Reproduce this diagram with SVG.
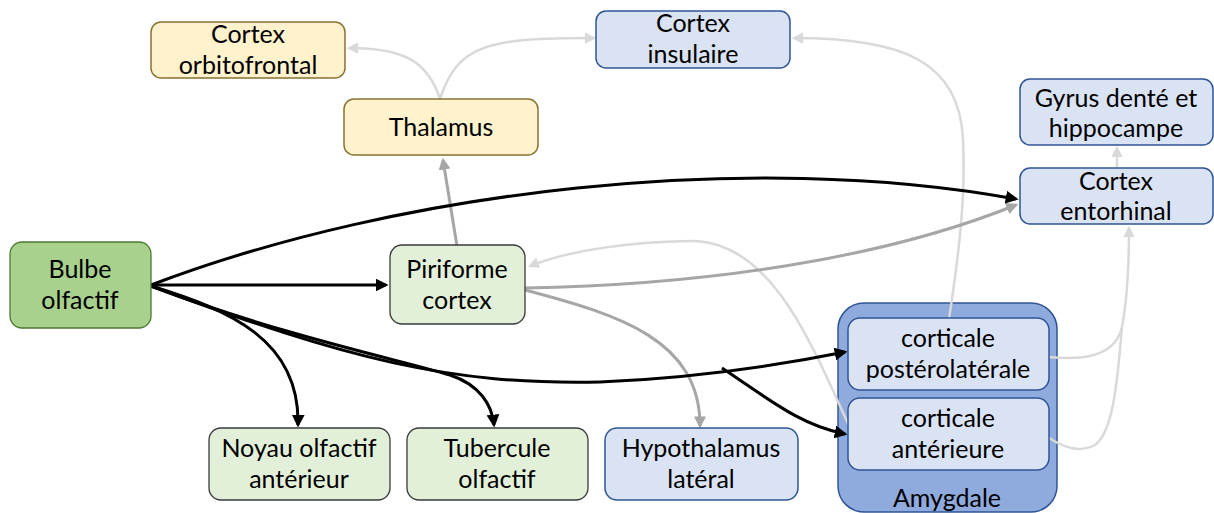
<svg xmlns="http://www.w3.org/2000/svg" width="1214" height="513" viewBox="0 0 1214 513">
<style>
text{font-family:Lato,"Liberation Sans",sans-serif;font-size:25px;fill:#000;text-anchor:middle}
.green{fill:#e2f0d9;stroke:#3a3a3a;stroke-width:1.3}
.bulbe{fill:#a9d18e;stroke:#4f7a33;stroke-width:1.3}
.yellow{fill:#fff2cc;stroke:#8a7232;stroke-width:1.5}
.blue{fill:#dae3f3;stroke:#2f5597;stroke-width:1.5}
.amyg{fill:#8faadc;stroke:#2f5597;stroke-width:1.5}
.k{fill:none;stroke:#000;stroke-width:3}
.g{fill:none;stroke:#a6a6a6;stroke-width:3}
.l{fill:none;stroke:#d9d9d9;stroke-width:2.5}
</style>
<defs>
<marker id="mk" viewBox="0 0 10 10" refX="8" refY="5" markerWidth="4.3" markerHeight="4.3" orient="auto" markerUnits="strokeWidth"><path d="M0,0 L10,5 L0,10 z" fill="#000"/></marker>
<marker id="mg" viewBox="0 0 10 10" refX="8" refY="5" markerWidth="4" markerHeight="4" orient="auto" markerUnits="strokeWidth"><path d="M0,0 L10,5 L0,10 z" fill="#a6a6a6"/></marker>
<marker id="ml" viewBox="0 0 10 10" refX="8" refY="5" markerWidth="4.5" markerHeight="4.5" orient="auto" markerUnits="strokeWidth"><path d="M0,0 L10,5 L0,10 z" fill="#d9d9d9"/></marker>
</defs>

<g id="amygdale">
<rect class="amyg" x="838" y="303" width="219" height="209" rx="26"/>
<text x="947" y="507">Amygdale</text>
</g>

<g id="connectors">
<path class="l" d="M440,99 C 428,62 405,48 349,48" marker-end="url(#ml)"/>
<path class="l" d="M440,99 C 458,44 488,38 594,38" marker-end="url(#ml)"/>
<path class="l" d="M949,319 C 958,260 966,200 963,140 C 960,60 900,38 794,38" marker-end="url(#ml)"/>
<path class="l" d="M1117,167 L1117,148" marker-end="url(#ml)"/>
<path class="l" d="M1049,357 C 1080,360 1115,358 1122,327 C 1127,300 1129,260 1129,228" marker-end="url(#ml)"/>
<path class="l" d="M1049,438 C 1065,448 1080,453 1095,445 C 1115,430 1118,370 1122,327"/>
<path class="l" d="M850,428 C 810,340 770,240 690,241 C 630,242 570,250 530,266" marker-end="url(#ml)"/>
<path class="g" d="M457,246 L443,160" marker-end="url(#mg)"/>
<path class="g" d="M525,288 C 700,285 880,260 1016,205" marker-end="url(#mg)"/>
<path class="g" d="M525,290 C 620,315 700,340 700,426" marker-end="url(#mg)"/>
<path class="k" d="M151,285 C 400,190 750,150 1016,199" marker-end="url(#mk)"/>
<path class="k" d="M151,285 L386,285" marker-end="url(#mk)"/>
<path class="k" d="M151,286 C 230,310 300,340 298,425" marker-end="url(#mk)"/>
<path class="k" d="M151,286 C 280,335 400,360 450,375 C 480,385 492,405 494,425" marker-end="url(#mk)"/>
<path class="k" d="M151,286 C 350,360 450,385 600,382 C 700,378 780,365 845,352" marker-end="url(#mk)"/>
<path class="k" d="M722,368 C 770,400 800,425 845,434" marker-end="url(#mk)"/>
</g>

<g id="orbitofrontal">
<rect class="yellow" x="151" y="22" width="194" height="56" rx="10"/>
<text x="248" y="43">Cortex</text>
<text x="248" y="74">orbitofrontal</text>
</g>
<g id="thalamus">
<rect class="yellow" x="344" y="99" width="194" height="56" rx="10"/>
<text x="441" y="136">Thalamus</text>
</g>
<g id="insulaire">
<rect class="blue" x="596" y="11" width="194" height="57" rx="10"/>
<text x="693" y="32">Cortex</text>
<text x="693" y="63">insulaire</text>
</g>
<g id="gyrus">
<rect class="blue" x="1020" y="79" width="193" height="66" rx="10"/>
<text x="1116" y="107">Gyrus denté et</text>
<text x="1116" y="137">hippocampe</text>
</g>
<g id="entorhinal">
<rect class="blue" x="1020" y="168" width="193" height="56" rx="10"/>
<text x="1116" y="190">Cortex</text>
<text x="1116" y="220">entorhinal</text>
</g>
<g id="bulbe">
<rect class="bulbe" x="10" y="242" width="141" height="86" rx="12"/>
<text x="80" y="278">Bulbe</text>
<text x="80" y="309">olfactif</text>
</g>
<g id="piriforme">
<rect class="green" x="390" y="245" width="135" height="79" rx="12"/>
<text x="457" y="278">Piriforme</text>
<text x="457" y="309">cortex</text>
</g>
<g id="noyau">
<rect class="green" x="209" y="428" width="181" height="72" rx="12"/>
<text x="299" y="457">Noyau olfactif</text>
<text x="299" y="488">antérieur</text>
</g>
<g id="tubercule">
<rect class="green" x="407" y="428" width="181" height="72" rx="12"/>
<text x="497" y="457">Tubercule</text>
<text x="497" y="488">olfactif</text>
</g>
<g id="hypothalamus">
<rect class="blue" x="605" y="428" width="193" height="72" rx="12"/>
<text x="701" y="457">Hypothalamus</text>
<text x="701" y="488">latéral</text>
</g>
<g id="posterolaterale">
<rect class="blue" x="848" y="318" width="201" height="72" rx="12"/>
<text x="948" y="347">corticale</text>
<text x="948" y="378">postérolatérale</text>
</g>
<g id="anterieure">
<rect class="blue" x="848" y="398" width="201" height="72" rx="12"/>
<text x="948" y="427">corticale</text>
<text x="948" y="458">antérieure</text>
</g>
</svg>
